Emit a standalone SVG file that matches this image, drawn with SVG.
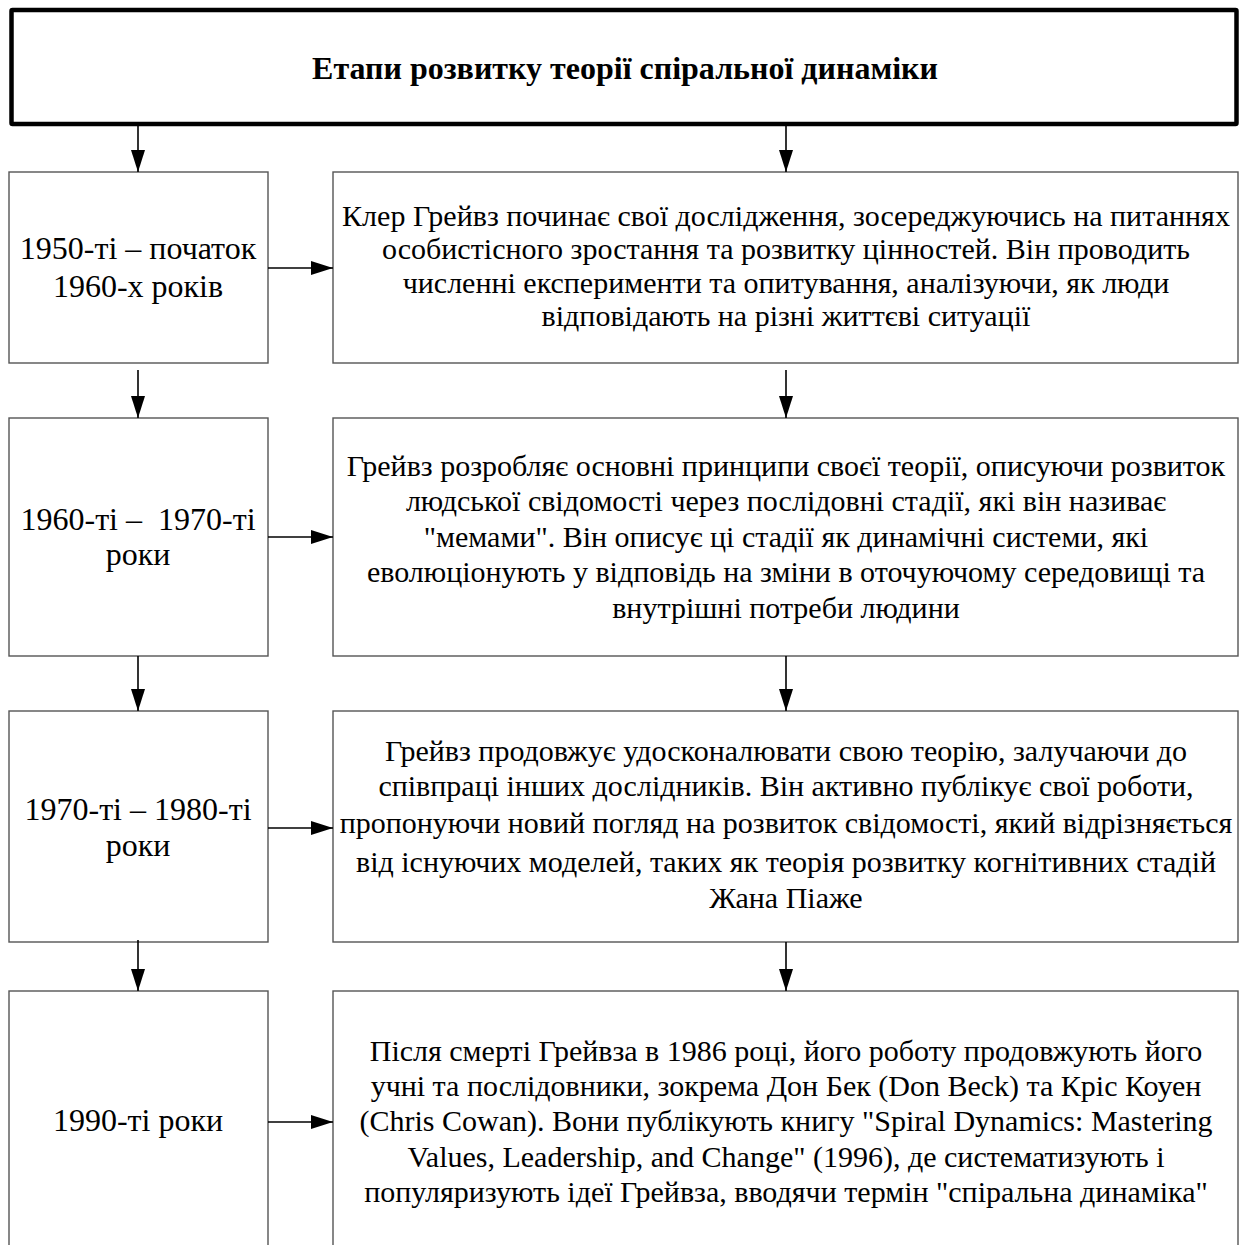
<svg xmlns="http://www.w3.org/2000/svg" width="1245" height="1245" viewBox="0 0 1245 1245">
<style>
.box{fill:#fff;stroke:#555;stroke-width:1.4}
.title{fill:#fff;stroke:#000;stroke-width:4.5}
.t{font-family:"Liberation Serif","Times New Roman",serif;font-size:30px;fill:#000;text-anchor:middle}
.tl{font-family:"Liberation Serif","Times New Roman",serif;font-size:32px;fill:#000;text-anchor:middle}
.tb{font-family:"Liberation Serif","Times New Roman",serif;font-size:32px;font-weight:bold;fill:#000;text-anchor:middle}
.c{stroke:#000;stroke-width:1.6;fill:none}
</style>
<defs>
<marker id="ah" markerUnits="userSpaceOnUse" markerWidth="22" markerHeight="14" refX="22" refY="7" orient="auto">
<path d="M0,0 L22,7 L0,14 Z" fill="#000"/>
</marker>
</defs>
<rect width="1245" height="1245" fill="#fff"/>
<g id="title">
<rect class="title" x="11.5" y="10" width="1225" height="114" rx="1"/>
<text class="tb" x="625" y="79">Етапи розвитку теорії спіральної динаміки</text>
</g>
<g id="period1">
<rect class="box" x="9" y="172" width="259" height="191"/>
<text class="tl" x="138" y="259">1950-ті – початок</text>
<text class="tl" x="138" y="297">1960-х років</text>
</g>
<g id="desc1">
<rect class="box" x="333" y="172" width="905" height="191"/>
<text class="t" x="786" y="226">Клер Грейвз починає свої дослідження, зосереджуючись на питаннях</text>
<text class="t" x="786" y="259">особистісного зростання та розвитку цінностей. Він проводить</text>
<text class="t" x="786" y="293">численні експерименти та опитування, аналізуючи, як люди</text>
<text class="t" x="786" y="326">відповідають на різні життєві ситуації</text>
</g>
<g id="period2">
<rect class="box" x="9" y="418" width="259" height="238"/>
<text class="tl" x="138" y="530" xml:space="preserve">1960-ті –  1970-ті</text>
<text class="tl" x="138" y="565">роки</text>
</g>
<g id="desc2">
<rect class="box" x="333" y="418" width="905" height="238"/>
<text class="t" x="786" y="476">Грейвз розробляє основні принципи своєї теорії, описуючи розвиток</text>
<text class="t" x="786" y="511">людської свідомості через послідовні стадії, які він називає</text>
<text class="t" x="786" y="547">"мемами". Він описує ці стадії як динамічні системи, які</text>
<text class="t" x="786" y="582">еволюціонують у відповідь на зміни в оточуючому середовищі та</text>
<text class="t" x="786" y="618">внутрішні потреби людини</text>
</g>
<g id="period3">
<rect class="box" x="9" y="711" width="259" height="231"/>
<text class="tl" x="138" y="820">1970-ті – 1980-ті</text>
<text class="tl" x="138" y="856">роки</text>
</g>
<g id="desc3">
<rect class="box" x="333" y="711" width="905" height="231"/>
<text class="t" x="786" y="761">Грейвз продовжує удосконалювати свою теорію, залучаючи до</text>
<text class="t" x="786" y="796">співпраці інших дослідників. Він активно публікує свої роботи,</text>
<text class="t" x="786" y="833">пропонуючи новий погляд на розвиток свідомості, який відрізняється</text>
<text class="t" x="786" y="872">від існуючих моделей, таких як теорія розвитку когнітивних стадій</text>
<text class="t" x="786" y="908">Жана Піаже</text>
</g>
<g id="period4">
<rect class="box" x="9" y="991" width="259" height="280"/>
<text class="tl" x="138" y="1131">1990-ті роки</text>
</g>
<g id="desc4">
<rect class="box" x="333" y="991" width="905" height="280"/>
<text class="t" x="786" y="1061">Після смерті Грейвза в 1986 році, його роботу продовжують його</text>
<text class="t" x="786" y="1096">учні та послідовники, зокрема Дон Бек (Don Beck) та Кріс Коуен</text>
<text class="t" x="786" y="1131">(Chris Cowan). Вони публікують книгу "Spiral Dynamics: Mastering</text>
<text class="t" x="786" y="1167">Values, Leadership, and Change" (1996), де систематизують і</text>
<text class="t" x="786" y="1202">популяризують ідеї Грейвза, вводячи термін "спіральна динаміка"</text>
</g>
<g id="connectors">
<line class="c" x1="138" y1="126" x2="138" y2="172" marker-end="url(#ah)"/>
<line class="c" x1="786" y1="126" x2="786" y2="172" marker-end="url(#ah)"/>
<line class="c" x1="138" y1="370" x2="138" y2="418" marker-end="url(#ah)"/>
<line class="c" x1="786" y1="370" x2="786" y2="418" marker-end="url(#ah)"/>
<line class="c" x1="138" y1="656" x2="138" y2="711" marker-end="url(#ah)"/>
<line class="c" x1="786" y1="656" x2="786" y2="711" marker-end="url(#ah)"/>
<line class="c" x1="138" y1="940" x2="138" y2="991" marker-end="url(#ah)"/>
<line class="c" x1="786" y1="942" x2="786" y2="991" marker-end="url(#ah)"/>
<line class="c" x1="268" y1="268" x2="333" y2="268" marker-end="url(#ah)"/>
<line class="c" x1="268" y1="537" x2="333" y2="537" marker-end="url(#ah)"/>
<line class="c" x1="268" y1="828" x2="333" y2="828" marker-end="url(#ah)"/>
<line class="c" x1="268" y1="1122" x2="333" y2="1122" marker-end="url(#ah)"/>
</g>
</svg>
